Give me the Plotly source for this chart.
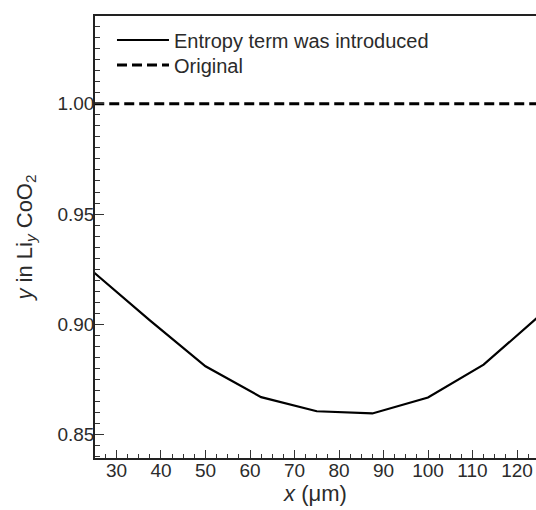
import plotly.graph_objects as go

# Data
x_um = [25, 37.5, 50, 62.5, 75, 87.5, 100, 112.5, 125]
y_entropy = [0.9234, 0.9018, 0.881, 0.8670, 0.8606, 0.8596, 0.8668, 0.8817, 0.9038]
y_original = [1.00, 1.00, 1.00, 1.00, 1.00, 1.00, 1.00, 1.00, 1.00]

x_ticks = [30, 40, 50, 60, 70, 80, 90, 100, 110, 120]
y_ticks = [0.85, 0.90, 0.95, 1.00]
y_ticklabels = ["0.85", "0.90", "0.95", "1.00"]

FONT = "Liberation Sans, Arial, Helvetica, sans-serif"
TXT = "#2b2b2b"

fig = go.Figure()
fig.add_trace(go.Scatter(
    x=x_um, y=y_entropy, mode="lines", name="Entropy term was introduced",
    line=dict(color="black", width=2.2), legend="legend",
))
fig.add_trace(go.Scatter(
    x=x_um, y=y_original, mode="lines", name="Original",
    line=dict(color="black", width=3, dash="10px,5px"), legend="legend2",
))

leg_common = dict(
    xanchor="left", yanchor="middle",
    bgcolor="rgba(0,0,0,0)", borderwidth=0,
    font=dict(family=FONT, size=20, color=TXT),
    itemwidth=52,
)

fig.update_layout(
    width=536, height=510,
    margin=dict(l=95, r=0, t=16, b=52),
    paper_bgcolor="white", plot_bgcolor="white",
    font=dict(family=FONT, color=TXT, size=19),
    showlegend=True,
    legend=dict(x=0.0385, y=0.9457, **leg_common),
    legend2=dict(x=0.0385, y=0.889, **leg_common),
)

fig.update_xaxes(
    range=[25.17, 124.27],
    tickvals=x_ticks, ticktext=[str(v) for v in x_ticks],
    ticks="inside", ticklen=8, tickwidth=1.3, tickcolor="#333",
    minor=dict(dtick=2.5, tick0=0, ticks="inside", ticklen=4, tickwidth=1.2, tickcolor="#333"),
    showline=True, linecolor="#222", linewidth=1.6, mirror=True,
    showgrid=False, zeroline=False,
    tickfont=dict(family=FONT, size=19, color=TXT),
    ticklabelstandoff=-6,
    title=dict(text="<i>x</i> (μm)", font=dict(family=FONT, size=22, color=TXT), standoff=6),
)
fig.update_yaxes(
    range=[0.8394, 1.0398],
    tickvals=y_ticks, ticktext=y_ticklabels,
    ticks="inside", ticklen=9, tickwidth=1.3, tickcolor="#333",
    minor=dict(dtick=0.005, tick0=0, ticks="inside", ticklen=5, tickwidth=1.2, tickcolor="#333"),
    showline=True, linecolor="#222", linewidth=1.6, mirror=False,
    showgrid=False, zeroline=False,
    tickfont=dict(family=FONT, size=19, color=TXT),
    ticklabelstandoff=-5,
    title=dict(text="<i>y</i> in Li<sub><i>y</i></sub> CoO<sub>2</sub>",
               font=dict(family=FONT, size=22, color=TXT), standoff=19),
)

# remove the browser's default 8px body margin so the figure fills the window
fig.write_html(
    "out.html",
    config={"displayModeBar": False},
    post_script="document.body.style.margin='0';document.body.style.overflow='hidden';",
)
